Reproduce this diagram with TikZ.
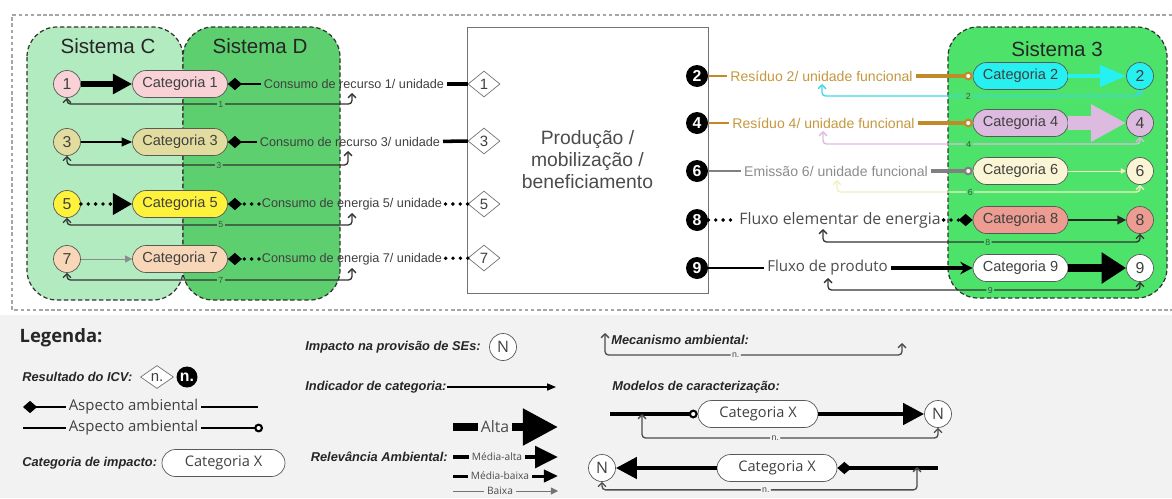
\documentclass[tikz,border=0pt]{standalone}
\usepackage{fontspec}
\setmainfont{Liberation Sans}
\newfontfamily\opensans{Open Sans}
\usetikzlibrary{positioning}
\usetikzlibrary{arrows.meta}
\usetikzlibrary{shapes.geometric}
\definecolor{sysC}{HTML}{B3EBC0}
\definecolor{sysD}{HTML}{5ECF6F}
\definecolor{sysT}{HTML}{4DE36B}
\definecolor{legbg}{HTML}{F2F2F2}
\definecolor{gold}{HTML}{C2892B}
\definecolor{goldtxt}{HTML}{C4983F}
\definecolor{catA}{HTML}{F8D2D6}
\definecolor{catB}{HTML}{E2DD9E}
\definecolor{catC}{HTML}{FFF23B}
\definecolor{catD}{HTML}{F8D6B8}
\definecolor{catE}{HTML}{26F0F0}
\definecolor{catF}{HTML}{DDBADF}
\definecolor{catG}{HTML}{FAF5D4}
\definecolor{catH}{HTML}{EC9C90}
\definecolor{mechE}{HTML}{3CD8E6}
\definecolor{mechG}{HTML}{F3EFC2}
\tikzset{panel/.style={draw=black!35, dash pattern=on 2pt off 1.5pt, line width=0.6pt}}
\tikzset{sysbox/.style={draw=black!80, dash pattern=on 2.5pt off 1.5pt, line width=0.7pt, rounded corners=0.6cm}}
\tikzset{systitle/.style={text=black!85, font=\fontsize{11.7}{12}\selectfont}}
\tikzset{cat/.style={draw=black!65, rounded corners=2.7mm, minimum width=1.9cm, minimum height=0.54cm, inner sep=0pt, text=black!75, font=\fontsize{8.3}{9}\selectfont}}
\tikzset{imp/.style={draw=black!65, circle, minimum size=0.54cm, inner sep=0pt, text=black!75, font=\fontsize{9}{9}\selectfont}}
\tikzset{icv/.style={draw=black!55, diamond, minimum width=0.64cm, minimum height=0.52cm, inner sep=0pt, fill=white, text=black!75, font=\fontsize{8.5}{9}\selectfont}}
\tikzset{outp/.style={circle, fill=black, text=white, minimum size=0.44cm, inner sep=0pt, font=\bfseries\fontsize{9}{9}\selectfont}}
\tikzset{flow/.style={inner sep=1.5pt, text=black!75, font=\fontsize{7.2}{8}\selectfont}}
\tikzset{mech/.style={<->, >={Straight Barb[length=2.2pt,width=4.5pt]}, line width=0.75pt, rounded corners=2pt, draw=black!80}}
\tikzset{mlab/.style={fill=#1, inner sep=0.8pt, text=black!70, font=\fontsize{5}{5}\selectfont}}
\tikzset{dotline/.style={line width=2.2pt, line cap=round, dash pattern=on 0pt off 4.2pt}}
\tikzset{lgd/.style={inner sep=0pt, text=black!85, font=\bfseries\itshape\fontsize{7.3}{8}\selectfont}}
\tikzset{rel/.style={inner sep=1.5pt, text=black!70, font={\opensans\fontsize{5.8}{6}\selectfont}}}

\begin{document}
\begin{tikzpicture}[x=0.02cm, y=-0.02cm]
\useasboundingbox (0,0) rectangle (1172,498);
\fill[legbg] (0,315) rectangle (1172,498);
\draw[panel] (1172,15) -| (12,310) -- (1172,310);

% sistemas
\draw[sysbox, fill=sysC] (27,27) rectangle (183,300);
\draw[sysbox, fill=sysD] (183,27) rectangle (340,300);
\draw[sysbox, fill=sysT] (948,27) rectangle (1167,298);
\node[systitle] (sC) at (108,46) {Sistema C};
\node[systitle] (sD) at (260,46) {Sistema D};
\node[systitle] (s3) at (1057,49) {Sistema 3};

% processo
\node[draw=black!55, fill=white, minimum width=4.82cm, minimum height=5.32cm, align=center, text=black!70, font=\fontsize{11}{12.5}\selectfont] (proc) at (587.5,160) {Produção /\\mobilização /\\beneficiamento};

% entradas
\node[imp, fill=catA] (c1) at (67,84) {1};
\node[cat, fill=catA] (k1) at (180,84) {Categoria 1};
\node[flow] (t1) at (354,84) {Consumo de recurso 1/ unidade};
\node[icv] (d1) at (484,84) {1};

\node[imp, fill=catB] (c3) at (67,142) {3};
\node[cat, fill=catB] (k3) at (180,142) {Categoria 3};
\node[flow] (t3) at (350,142) {Consumo de recurso 3/ unidade};
\node[icv] (d3) at (484,141) {3};

\node[imp, fill=catC] (c5) at (67,204) {5};
\node[cat, fill=catC] (k5) at (180,204) {Categoria 5};
\node[flow] (t5) at (352,204) {Consumo de energia 5/ unidade};
\node[icv] (d5) at (484,204) {5};

\node[imp, fill=catD] (c7) at (67,259) {7};
\node[cat, fill=catD] (k7) at (180,259) {Categoria 7};
\node[flow] (t7) at (352,259) {Consumo de energia 7/ unidade};
\node[icv] (d7) at (484,258) {7};

\draw[line width=3.2pt, -{Triangle[length=11pt,width=11pt]}] (c1) -- (k1);
\draw[line width=0.9pt, -{Triangle[length=6pt,width=5pt]}] (c3) -- (k3);
\draw[dotline, -{Triangle[length=11pt,width=12pt]}] (c5) -- (k5);
\draw[line width=0.4pt, draw=black!45, -{Triangle[length=4pt,width=4pt]}] (c7) -- (k7);

\draw[line width=1.6pt, -{Diamond[length=8pt,width=7pt]}] (t1) -- (k1);
\draw[line width=2pt] (d1) -- (t1);
\draw[line width=1.6pt, -{Diamond[length=8pt,width=7pt]}] (t3) -- (k3);
\draw[line width=2pt] (d3) -- (t3);
\draw[dotline, -{Diamond[length=8pt,width=7pt]}] (t5) -- (k5);
\draw[dotline] (d5) -- (t5);
\draw[dotline, -{Diamond[length=8pt,width=7pt]}] (t7) -- (k7);
\draw[dotline] (d7) -- (t7);

\coordinate (m1) at (352,93);
\coordinate (m3) at (348,151);
\coordinate (m5) at (352,213);
\coordinate (m7) at (352,268);
\draw[mech] (m1) -- ++(0,11) -| node[pos=0.23, mlab=sysD] {1} (c1.south);
\draw[mech] (m3) -- ++(0,14) -| node[pos=0.23, mlab=sysD] {3} (c3.south);
\draw[mech] (m5) -- ++(0,12) -| node[pos=0.23, mlab=sysD] {5} (c5.south);
\draw[mech] (m7) -- ++(0,12) -| node[pos=0.23, mlab=sysD] {7} (c7.south);

% saidas
\node[outp] (o2) at (697,76) {2};
\node[flow, text=goldtxt, font=\fontsize{8}{9}\selectfont] (t2) at (821.5,76) {Resíduo 2/ unidade funcional};
\node[cat, fill=catE] (k2) at (1020.5,76) {Categoria 2};
\node[imp, fill=catE] (c2) at (1140,76) {2};

\node[outp] (o4) at (697,123) {4};
\node[flow, text=goldtxt, font=\fontsize{8}{9}\selectfont] (t4) at (823.5,123) {Resíduo 4/ unidade funcional};
\node[cat, fill=catF] (k4) at (1020.5,123) {Categoria 4};
\node[imp, fill=catF] (c4) at (1140,123) {4};

\node[outp] (o6) at (697,171) {6};
\node[flow, text=black!45, font=\fontsize{8}{9}\selectfont] (t6) at (836,171) {Emissão 6/ unidade funcional};
\node[cat, fill=catG] (k6) at (1020.5,171) {Categoria 6};
\node[imp, fill=catG] (c6) at (1140,171) {6};

\node[outp] (o8) at (697,220) {8};
\node[flow, text=black!70, font={\opensans\fontsize{9}{10}\selectfont}] (t8) at (840,220) {Fluxo elementar de energia};
\node[cat, fill=catH] (k8) at (1020.5,220) {Categoria 8};
\node[imp, fill=catH] (c8) at (1140,220) {8};

\node[outp] (o9) at (697,268) {9};
\node[flow, text=black!70, font={\opensans\fontsize{8.6}{10}\selectfont}] (t9) at (827.5,268) {Fluxo de produto};
\node[cat, fill=white] (k9) at (1020.5,268) {Categoria 9};
\node[imp, fill=white] (c9) at (1140,268) {9};

\draw[gold, line width=1.6pt] (o2) -- (t2);
\draw[gold, line width=2.2pt, -{Circle[fill=white,length=5pt,line width=1.2pt]}] (t2) -- (k2);
\draw[gold, line width=1.6pt] (o4) -- (t4);
\draw[gold, line width=2.2pt, -{Circle[fill=white,length=5pt,line width=1.2pt]}] (t4) -- (k4);
\draw[black!50, line width=1.4pt] (o6) -- (t6);
\draw[black!50, line width=1.8pt, -{Circle[fill=white,length=5pt,line width=1.2pt]}] (t6) -- (k6);
\draw[dotline] (o8) -- (t8);
\draw[dotline, -{Diamond[length=8pt,width=7pt]}] (t8) -- (k8);
\draw[line width=1.6pt] (o9) -- (t9);
\draw[line width=2pt, -{Stealth[length=7pt,width=7pt]}] (t9) -- (k9);

\draw[catE, line width=2.5pt, -{Triangle[length=15pt,width=12pt]}] (k2) -- (c2);
\draw[catF, line width=8pt, -{Triangle[length=20pt,width=20pt]}] (k4) -- (c4);
\draw[mechG, line width=0.5pt, -{Triangle[length=3pt,width=3pt]}] (k6) -- (c6);
\draw[black!85, line width=0.8pt, -{Triangle[length=5pt,width=5pt]}] (k8) -- (c8);
\draw[line width=4.5pt, -{Triangle[length=14pt,width=17pt]}] (k9) -- (c9);

\coordinate (m2) at (822,84);
\coordinate (m4) at (823,131);
\coordinate (m6) at (837,180);
\coordinate (m8) at (823,229);
\coordinate (m9) at (828,278);
\draw[mech, draw=mechE] (m2) -- ++(0,12) -| node[pos=0.23, mlab=sysT] {2} (c2.south);
\draw[mech, draw=catF] (m4) -- ++(0,13) -| node[pos=0.23, mlab=sysT] {4} (c4.south);
\draw[mech, draw=mechG] (m6) -- ++(0,12) -| node[pos=0.22, mlab=sysT] {6} (c6.south);
\draw[mech] (m8) -- ++(0,13) -| node[pos=0.26, mlab=sysT] {8} (c8.south);
\draw[mech] (m9) -- ++(0,12) -| node[pos=0.26, mlab=sysT] {9} (c9.south);

% legenda
\node[text=black!85, font={\opensans\bfseries\fontsize{10.5}{12}\selectfont}] (leg) at (61,338) {Legenda:};
\node[lgd, anchor=west] (ricv) at (22,377) {Resultado do ICV:};
\node[icv, minimum width=0.66cm, minimum height=0.46cm] (dn) at (157,377) {n.};
\node[outp, minimum size=0.42cm] (on) at (187,377) {n.};

\coordinate (a1l) at (23,407);
\coordinate (a1r) at (258,407);
\node[text=black!75, inner sep=1.5pt, font={\opensans\fontsize{8.5}{9}\selectfont}] (asp1) at (133.5,407) {Aspecto ambiental};
\draw[line width=1.6pt, {Diamond[length=8pt,width=7pt]}-] (a1l) -- (asp1);
\draw[line width=1.6pt] (asp1) -- (a1r);
\coordinate (a2l) at (23,428);
\coordinate (a2r) at (263,428);
\node[text=black!75, inner sep=1.5pt, font={\opensans\fontsize{8.5}{9}\selectfont}] (asp2) at (133.5,428) {Aspecto ambiental};
\draw[line width=1.6pt] (a2l) -- (asp2);
\draw[line width=1.6pt, -{Circle[fill=white,length=5pt,line width=1.2pt]}] (asp2) -- (a2r);

\node[lgd, anchor=west] (rcat) at (22,463) {Categoria de impacto:};
\node[cat, fill=white, minimum width=2.46cm, font={\opensans\fontsize{8.3}{9}\selectfont}] (kx) at (223.5,463) {Categoria X};

\node[lgd, anchor=west] (rimp) at (305,347) {Impacto na provisão de SEs:};
\node[imp, fill=white, font={\opensans\fontsize{9}{9}\selectfont}] (nN) at (503,347) {N};
\node[lgd, anchor=west] (rind) at (305,387) {Indicador de categoria:};
\coordinate (ind) at (556,387);
\draw[line width=0.7pt, -{Triangle[length=5pt,width=4pt]}] (rind) -- (ind);

\coordinate (alL) at (453,427);
\coordinate (alR) at (558,427);
\node[rel, font={\opensans\fontsize{9}{10}\selectfont}] (alta) at (495,427) {Alta};
\draw[line width=4.5pt] (alL) -- (alta);
\draw[line width=4.5pt, -{Triangle[length=20pt,width=20pt]}] (alta) -- (alR);
\node[lgd, anchor=east] (rrel) at (448,457) {Relevância Ambiental:};
\coordinate (maL) at (453,457);
\coordinate (maR) at (558,457);
\node[rel] (malta) at (497,457) {Média-alta};
\draw[line width=2.8pt] (maL) -- (malta);
\draw[line width=2.8pt, -{Triangle[length=13pt,width=12pt]}] (malta) -- (maR);
\coordinate (mbL) at (453,476);
\coordinate (mbR) at (558,476);
\node[rel] (mbaixa) at (500,476) {Média-baixa};
\draw[line width=1.7pt] (mbL) -- (mbaixa);
\draw[line width=1.7pt, -{Triangle[length=8pt,width=7pt]}] (mbaixa) -- (mbR);
\coordinate (bxL) at (453,491);
\coordinate (bxR) at (558,491);
\node[rel] (baixa) at (500,491) {Baixa};
\draw[line width=0.5pt, draw=black!55] (bxL) -- (baixa);
\draw[line width=0.5pt, draw=black!55, -{Triangle[length=4pt,width=4pt]}] (baixa) -- (bxR);

\node[lgd, anchor=west] (rmec) at (611,340) {Mecanismo ambiental:};
\coordinate (mA) at (605,333);
\coordinate (mB) at (902,343);
\draw[mech, draw=black!70] (mA) -- ++(0,22) -| node[pos=0.22, mlab=legbg] {n.} (mB);

\node[lgd, anchor=west] (rmod) at (612,387) {Modelos de caracterização:};
\coordinate (x1l) at (610,414);
\coordinate (x1m) at (642,414);
\node[cat, fill=white, minimum width=2.4cm, font={\opensans\fontsize{8.3}{9}\selectfont}] (kx1) at (758,414) {Categoria X};
\node[imp, fill=white, font={\opensans\fontsize{9}{9}\selectfont}] (nx1) at (938,414) {N};
\draw[line width=1.8pt, -{Circle[fill=white,length=5pt,line width=1.2pt]}] (x1l) -- (kx1);
\draw[line width=2.5pt, -{Triangle[length=12pt,width=12pt]}] (kx1) -- (nx1);
\draw[mech, draw=black!70] (x1m) -- ++(0,24) -| node[pos=0.225, mlab=legbg] {n.} (nx1.south);

\coordinate (x2r) at (938,468);
\coordinate (x2m) at (917,467);
\node[imp, fill=white, font={\opensans\fontsize{9}{9}\selectfont}] (nx2) at (602,468) {N};
\node[cat, fill=white, minimum width=2.4cm, font={\opensans\fontsize{8.3}{9}\selectfont}] (kx2) at (777,468) {Categoria X};
\draw[line width=2.5pt, -{Triangle[length=12pt,width=12pt]}] (kx2) -- (nx2);
\draw[line width=1.8pt, -{Diamond[length=8pt,width=7pt]}] (x2r) -- (kx2);
\draw[mech, draw=black!70] (nx2.south) -- ++(0,8) -| node[pos=0.26, mlab=legbg] {n.} (x2m);
\end{tikzpicture}
\end{document}
